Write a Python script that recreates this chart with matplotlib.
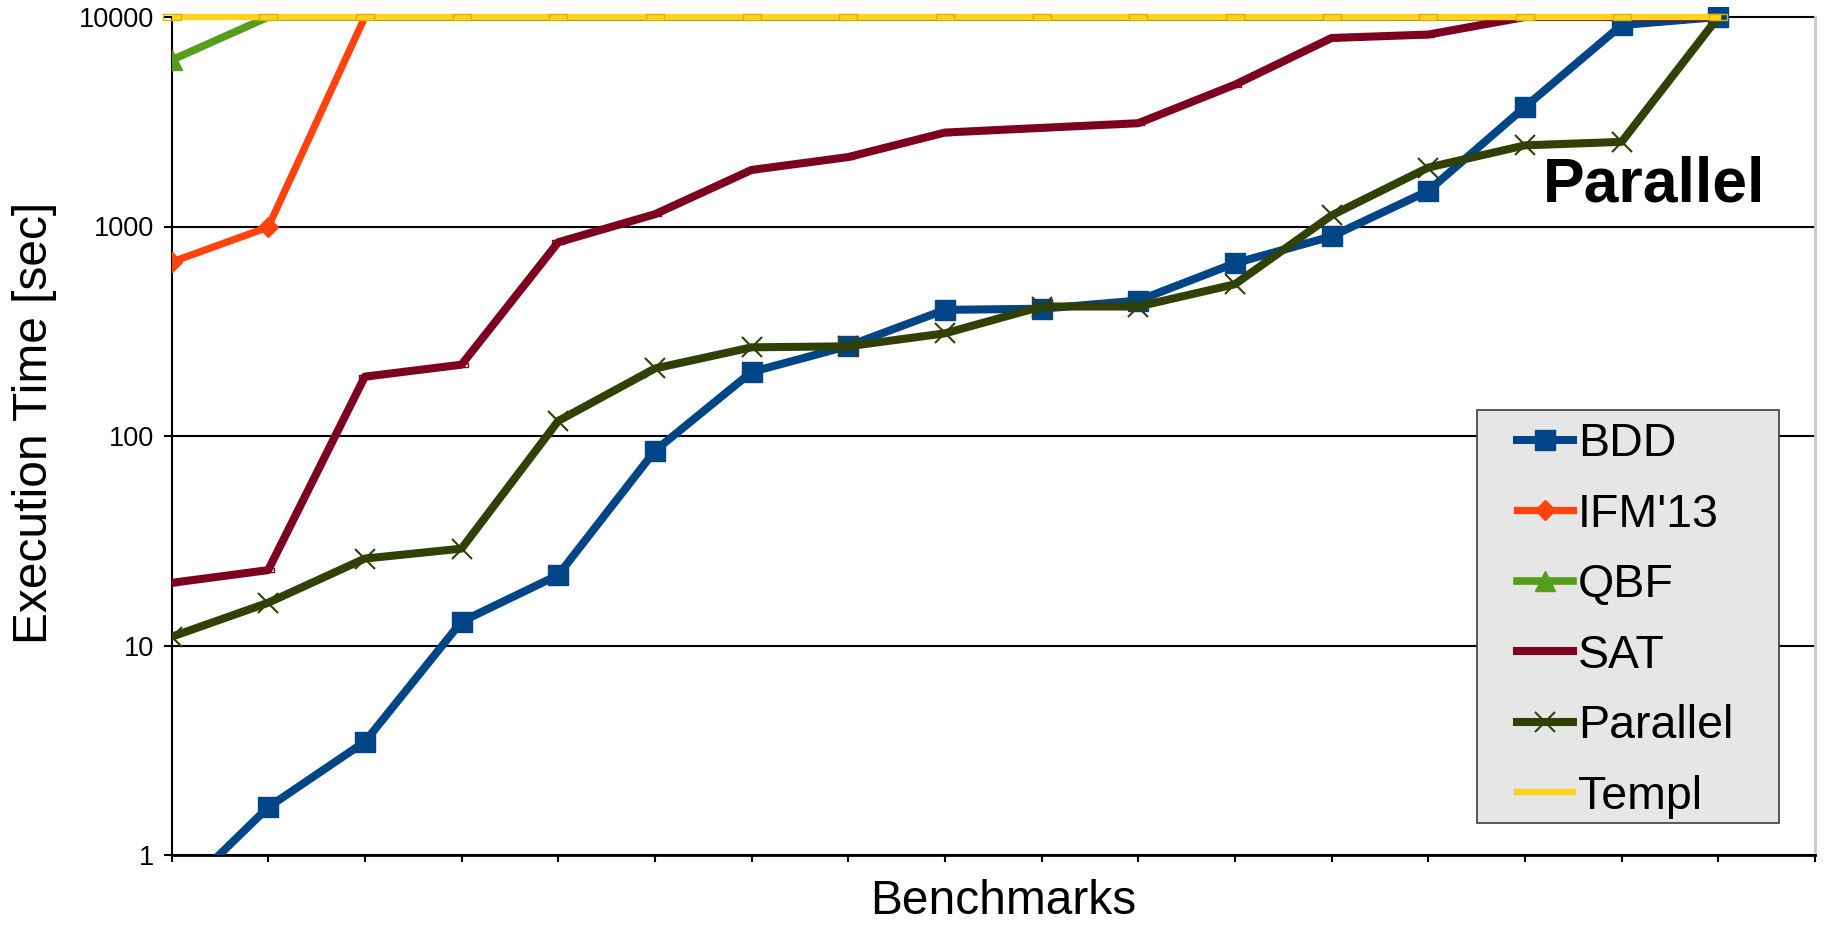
import numpy as np
import matplotlib
matplotlib.use("Agg")
import matplotlib.pyplot as plt
from matplotlib.patches import Rectangle

plt.rcParams['font.family'] = ['Liberation Sans', 'DejaVu Sans']

# ---- data (execution time in seconds per benchmark, sorted) ----
series_names = ['BDD', "IFM'13", 'QBF', 'SAT', 'Parallel', 'Templ']
bdd = [0.6, 1.69, 3.47, 13, 21.7, 85, 202, 269, 400, 405, 443, 668, 897, 1480, 3720, 9150, 10000]
ifm13 = [676, 993, 10000, 10000, 10000, 10000, 10000, 10000, 10000, 10000, 10000, 10000, 10000, 10000, 10000, 10000, 10000]
qbf = [6225, 10000, 10000, 10000, 10000, 10000, 10000, 10000, 10000, 10000, 10000, 10000, 10000, 10000, 10000, 10000, 10000]
sat = [19.9, 22.9, 192, 219, 841, 1144, 1862, 2145, 2808, 2956, 3112, 4753, 7940, 8245, 10000, 10000, 10000]
parallel = [11, 16, 26, 29, 118, 210, 265, 268, 309, 415, 415, 530, 1130, 1912, 2440, 2535, 10000]
templ = [10000, 10000, 10000, 10000, 10000, 10000, 10000, 10000, 10000, 10000, 10000, 10000, 10000, 10000, 10000, 10000, 10000]
timeout = 10000
ytick_values = [1, 10, 100, 1000, 10000]
ytick_labels = ['1', '10', '100', '1000', '10000']

x = np.arange(len(bdd))

W, H = 1829, 925
fig = plt.figure(figsize=(W / 100, H / 100), dpi=100)

# axes geometry (pixels)
left_px, right_px = 171.5, 1815.0
bottom_px, top10k_px = 855.0, 17.0
ytop = 10 ** 4.05
ax_h_px = (bottom_px - top10k_px) * 4.05 / 4.0
ax = fig.add_axes([left_px / W, 1 - bottom_px / H, (right_px - left_px) / W, ax_h_px / H])

ax.set_yscale('log')
ax.set_ylim(1, ytop)
ax.set_xlim(0, len(bdd))
ax.set_xticks(np.arange(0, len(bdd) + 1))
ax.set_xticklabels([])
ax.set_yticks(ytick_values)
ax.set_yticklabels(ytick_labels)
ax.minorticks_off()

ax.set_axisbelow(True)
ax.yaxis.grid(True, color='black', lw=1.5)
ax.xaxis.grid(False)

ax.spines['top'].set_visible(False)
ax.spines['left'].set_color('black')
ax.spines['left'].set_linewidth(1.5)
ax.spines['left'].set_bounds(1, 10000)
ax.spines['bottom'].set_color('black')
ax.spines['bottom'].set_linewidth(2)
ax.spines['right'].set_color('#c8c8c8')
ax.spines['right'].set_linewidth(2)
ax.spines['right'].set_bounds(1, 10000)

ax.tick_params(axis='y', direction='out', length=5.5, width=1.5, labelsize=19.5, pad=7)
ax.tick_params(axis='x', direction='out', length=5, width=1.5)

# clip region that ends at the 10000 line (plot-area top)
def clip_top(line):
    frac = np.log10(timeout) / np.log10(ytop)
    line.set_clip_path(Rectangle((0, 0), 1, frac, transform=ax.transAxes))

def below_timeout(vals):
    return [i for i, v in enumerate(vals) if v < timeout]

l_bdd, = ax.plot(x, bdd, color='#004586', lw=5.8, marker='s', ms=14, label='BDD', zorder=3)
l_ifm, = ax.plot(x, ifm13, color='#ff420e', lw=5.2, marker='D', ms=10, label="IFM'13", zorder=3,
                 markevery=below_timeout(ifm13))
clip_top(l_ifm)
l_qbf, = ax.plot(x, qbf, color='#579d1c', lw=5.5, marker='^', ms=14, label='QBF', zorder=3,
                 markevery=below_timeout(qbf))
clip_top(l_qbf)
l_sat, = ax.plot(x, sat, color='#7e0021', lw=5.8, label='SAT', zorder=3)
clip_top(l_sat)
ax.plot(x, sat, ls='none', marker=[(-1.5, -0.5), (1.5, -0.5), (1.5, 0.5), (-1.5, 0.5), (-1.5, -0.5)],
        ms=8, mfc='none', mec='#7e0021', mew=1, zorder=3, markevery=below_timeout(sat))
l_par, = ax.plot(x, parallel, color='#314004', lw=5.8, marker='x', ms=14, mew=1.5, label='Parallel', zorder=3,
                 markevery=below_timeout(parallel))
clip_top(l_par)
l_tpl, = ax.plot(x, templ, color='#ffd320', lw=4.6, label='Templ', zorder=4)
ax.plot(x, templ, ls='none', marker=[(-1.6, -0.5), (1.6, -0.5), (1.6, 0.5), (-1.6, 0.5), (-1.6, -0.5)],
        ms=13, mfc='none', mec='#e0b000', mew=1, zorder=4, clip_on=False)

ax.set_ylabel('Execution Time [sec]', fontsize=34.5, va='baseline', ha='center')
ax.yaxis.set_label_coords((47 - left_px) / (right_px - left_px), (bottom_px - 422.5) / ax_h_px)
ax.set_xlabel('Benchmarks', fontsize=34.5, va='baseline', ha='center')
ax.xaxis.set_label_coords((1003.5 - left_px) / (right_px - left_px), (bottom_px - 914) / ax_h_px)

# legend box
bx0, bx1, by0, by1 = 1476.7, 1778.7, 410.0, 823.0
fig.add_artist(Rectangle((bx0 / W, 1 - by1 / H), (bx1 - bx0) / W, (by1 - by0) / H,
                         transform=fig.transFigure, facecolor='#e6e6e6',
                         edgecolor='#3c3c3c', lw=1.2, zorder=4))
fig.legend(handles=[l_bdd, l_ifm, l_qbf, l_sat, l_par, l_tpl], labels=series_names,
           loc='upper left', bbox_to_anchor=(1516.7 / W, 1 - 422 / H),
           frameon=False, fontsize=33.5, handlelength=1.22, handletextpad=0.09,
           labelspacing=0.57, borderpad=0, borderaxespad=0, numpoints=1)

fig.text(1543 / W, 1 - 202 / H, 'Parallel', fontsize=45, fontweight='bold',
         ha='left', va='baseline')

fig.savefig('out.png', dpi=100)
